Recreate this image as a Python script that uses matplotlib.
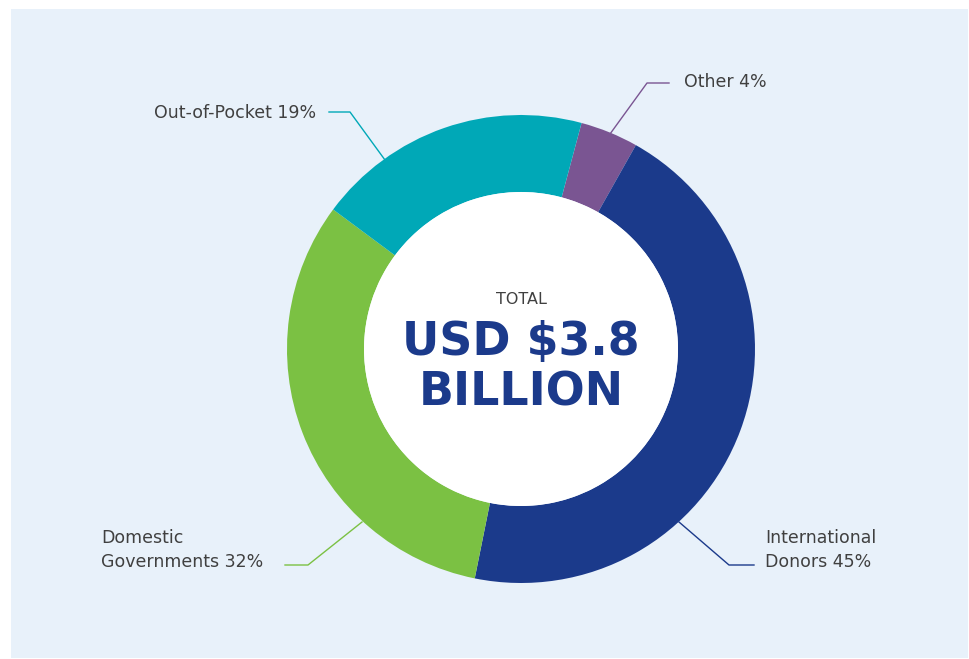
import matplotlib.pyplot as plt
from matplotlib.patches import Rectangle, Circle

labels = ['Other 4%', 'International\nDonors 45%', 'Domestic\nGovernments 32%', 'Out-of-Pocket 19%']
shares = [4, 45, 32, 19]
colors = ['#7a5592', '#1b3a8b', '#7bc143', '#00a8b7']

W, H = 969, 659
fig = plt.figure(figsize=(W / 100, H / 100), dpi=100)
ax = fig.add_axes([0, 0, 1, 1])

# light panel
ax.add_patch(Rectangle((11, 1), 957, 649, facecolor='#e8f1fa', edgecolor='none', zorder=0))

cx, cy, r = 521, H - 349, 234
wedges, _ = ax.pie(shares, colors=colors, startangle=75, counterclock=False,
                   center=(cx, cy), radius=r, wedgeprops=dict(width=77, linewidth=0),
                   frame=True)
ax.add_patch(Circle((cx, cy), r - 77, facecolor='white', edgecolor='none', zorder=2))
ax.set_xlim(0, W)
ax.set_ylim(0, H)
ax.set_aspect('equal')
ax.axis('off')

# leader lines (pixel coords, y from top)
leaders = [
    ([610, 647, 669], [134, 83, 83]),
    ([679, 729, 754], [522, 565, 565]),
    ([362, 308, 285], [522, 565, 565]),
    ([385, 350, 329], [160, 112, 112]),
]
for (xs, ys), c in zip(leaders, colors):
    ax.plot(xs, [H - y for y in ys], color=c, lw=1, zorder=3)

txt = dict(color='#404040', fontsize=12.5, family='DejaVu Sans', linespacing=1.4)
ax.text(684, H - 82, labels[0], ha='left', va='center', **txt)
ax.text(765, H - 550, labels[1], ha='left', va='center', **txt)
ax.text(101, H - 550, labels[2], ha='left', va='center', **txt)
ax.text(316, H - 113, labels[3], ha='right', va='center', **txt)

# centre
ax.text(cx, H - 300, 'TOTAL', ha='center', va='center', color='#404040',
        fontsize=11.5, family='DejaVu Sans')
ax.text(cx, H - 343, 'USD $3.8', ha='center', va='center', color='#1b3a8b',
        fontsize=33, family='DejaVu Sans', fontweight='bold')
ax.text(cx, H - 393, 'BILLION', ha='center', va='center', color='#1b3a8b',
        fontsize=33, family='DejaVu Sans', fontweight='bold')

fig.savefig('out.png', dpi=100, facecolor='white')
